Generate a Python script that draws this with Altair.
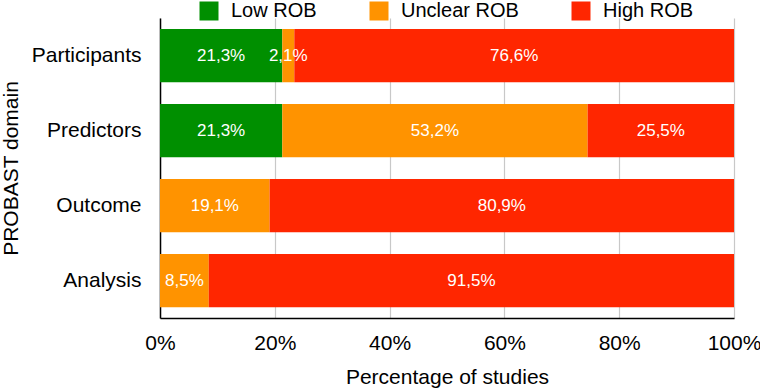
import altair as alt
import pandas as pd

# PROBAST risk-of-bias judgements per domain (percentage of studies)
domains = ["Participants", "Predictors", "Outcome", "Analysis"]
categories = ["Low ROB", "Unclear ROB", "High ROB"]
low = [21.3, 21.3, 0.0, 0.0]
unclear = [2.1, 53.2, 19.1, 8.5]
high = [76.6, 25.5, 80.9, 91.5]
colors = ["#008F00", "#FF9300", "#FF2600"]
x_ticks = [0, 20, 40, 60, 80, 100]

FONT = "Liberation Sans"

rows = []
for i, d in enumerate(domains):
    for k, (cat, vals) in enumerate(zip(categories, [low, unclear, high])):
        v = vals[i]
        rows.append({
            "domain": d,
            "rob": cat,
            "order": k,
            "value": v,
            "label": f"{v:.1f}".replace(".", ",") + "%",
        })
df = pd.DataFrame(rows)

base = alt.Chart(df).transform_stack(
    stack="value",
    groupby=["domain"],
    as_=["x0", "x1"],
    sort=[alt.SortField("order", order="ascending")],
).transform_calculate(mid="(datum.x0 + datum.x1) / 2")

y_enc = alt.Y(
    "domain:N",
    sort=domains,
    scale=alt.Scale(paddingInner=0.29, paddingOuter=0.145),
    axis=alt.Axis(
        title="PROBAST domain",
        titleFontSize=21,
        titleFontWeight="normal",
        titlePadding=10,
        labelFontSize=21,
        labelPadding=19,
        ticks=False,
        domainColor="black",
        domainWidth=1.5,
        labelColor="black",
        titleColor="black",
    ),
)

x_scale = alt.Scale(domain=[0, 100], nice=False)

bars = base.mark_bar().encode(
    x=alt.X(
        "x0:Q",
        scale=x_scale,
        axis=alt.Axis(
            title="Percentage of studies",
            values=x_ticks,
            labelExpr="datum.value + '%'",
            titleFontSize=21,
            titleFontWeight="normal",
            titlePadding=13,
            labelFontSize=21,
            labelPadding=14,
            ticks=False,
            grid=True,
            gridColor="#c8c8c8",
            gridWidth=1.2,
            domainColor="black",
            domainWidth=1.5,
            labelColor="black",
            titleColor="black",
            labelFlush=False,
        ),
    ),
    x2="x1:Q",
    y=y_enc,
    color=alt.Color(
        "rob:N",
        sort=categories,
        scale=alt.Scale(domain=categories, range=colors),
        legend=alt.Legend(
            title=None,
            orient="none",
            direction="horizontal",
            legendX=39,
            legendY=-17,
            symbolType="square",
            symbolSize=361,
            symbolStrokeWidth=0,
            symbolOpacity=1,
            labelFontSize=20,
            labelOffset=12,
            columnPadding=52,
            labelColor="black",
            padding=0,
        ),
    ),
    order=alt.Order("order:Q"),
)

labels = base.transform_filter("datum.value > 0").mark_text(
    color="white", fontSize=17, align="center", baseline="middle"
).encode(
    x=alt.X("mid:Q", scale=x_scale),
    y=alt.Y("domain:N", sort=domains),
    text="label:N",
)

chart = (
    alt.layer(bars, labels)
    .properties(
        width=574,
        height=300,
        autosize=alt.AutoSizeParams(type="none"),
        padding={"left": 160, "top": 18, "right": 26, "bottom": 70},
    )
    .configure(font=FONT)
    .configure_view(stroke=None)
)

chart.save("out.html", embed_options={"renderer": "svg", "actions": False})
